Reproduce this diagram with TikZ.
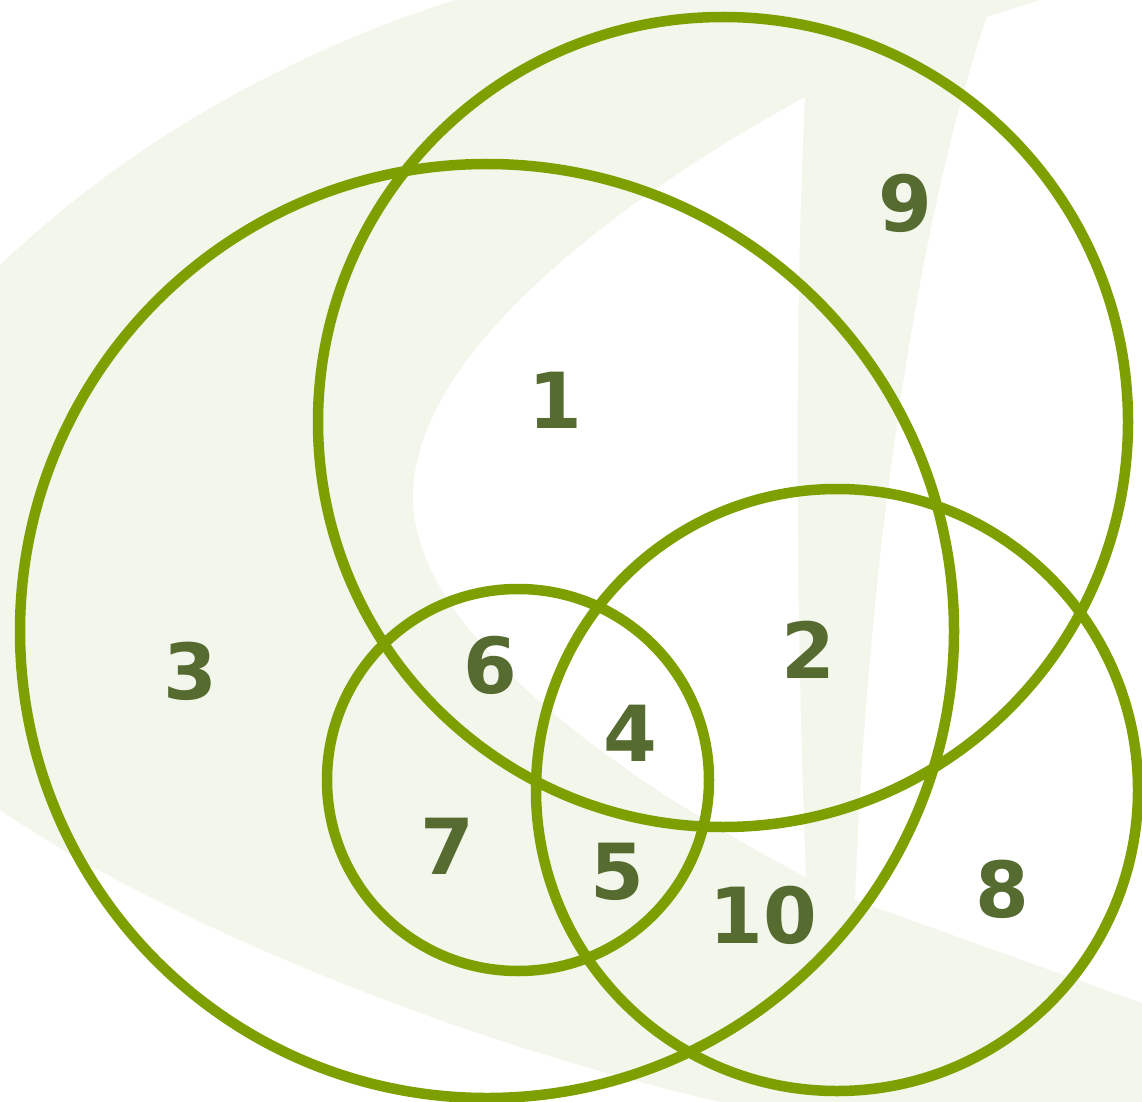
\documentclass[tikz,border=0pt]{standalone}
\usepackage{fontspec}
\newfontfamily\numfont{DejaVu Sans}
\usepackage{tikz}
\usetikzlibrary{positioning}
\definecolor{Ring}{HTML}{7DA000}
\definecolor{Num}{HTML}{566B30}
\definecolor{Wash}{HTML}{F3F6EB}
\tikzset{
  ring/.style={draw=Ring,line width=1.05mm},
  num/.style={font=\numfont\bfseries\fontsize{22}{26}\selectfont,text=Num,inner sep=0pt},
  wash/.style={fill=Wash,draw=none},
  blank/.style={fill=white,draw=none}
}

\begin{document}
\begin{tikzpicture}[x=.1mm,y=-.1mm]
  \useasboundingbox (0,0) rectangle (1142,1102);

  % pale swoosh behind the sets
  \fill[wash] (0,0) rectangle (1142,1102);
  \fill[blank] (0,0) -- (455,0) .. controls (280,55) and (120,150) .. (0,265) -- cycle;
  \fill[blank] (0,810) .. controls (160,920) and (450,1040) .. (720,1102) -- (0,1102) -- cycle;
  \fill[blank] (805,97) .. controls (600,210) and (413,360) .. (413,497)
     .. controls (413,640) and (640,790) .. (806,877)
     .. controls (795,600) and (795,300) .. (805,97) -- cycle;
  \fill[blank] (1040,0) -- (987,17) .. controls (930,180) and (870,500) .. (855,900)
     -- (1142,1003) -- (1142,0) -- cycle;

  \coordinate (big)   at (487,631);
  \coordinate (upper) at (723,422);
  \coordinate (lower) at (837,790);
  \coordinate (small) at (518,780);

  \draw[ring] (big) circle[radius=467];
  \draw[ring] (upper) circle[radius=405];
  \draw[ring] (lower) circle[radius=301];
  \draw[ring] (small) circle[radius=191];

  \node[num] (r1)  at (555,400) {1};
  \node[num] (r2)  at (808,650) {2};
  \node[num] (r3)  at (190,671) {3};
  \node[num] (r4)  at (630,733) {4};
  \node[num] (r5)  at (617,872) {5};
  \node[num] (r6)  at (490,665) {6};
  \node[num] (r7)  at (447,846) {7};
  \node[num] (r8)  at (1002,889) {8};
  \node[num] (r9)  at (905,203) {9};
  \node[num] (r10) at (763,915) {10};
\end{tikzpicture}
\end{document}
